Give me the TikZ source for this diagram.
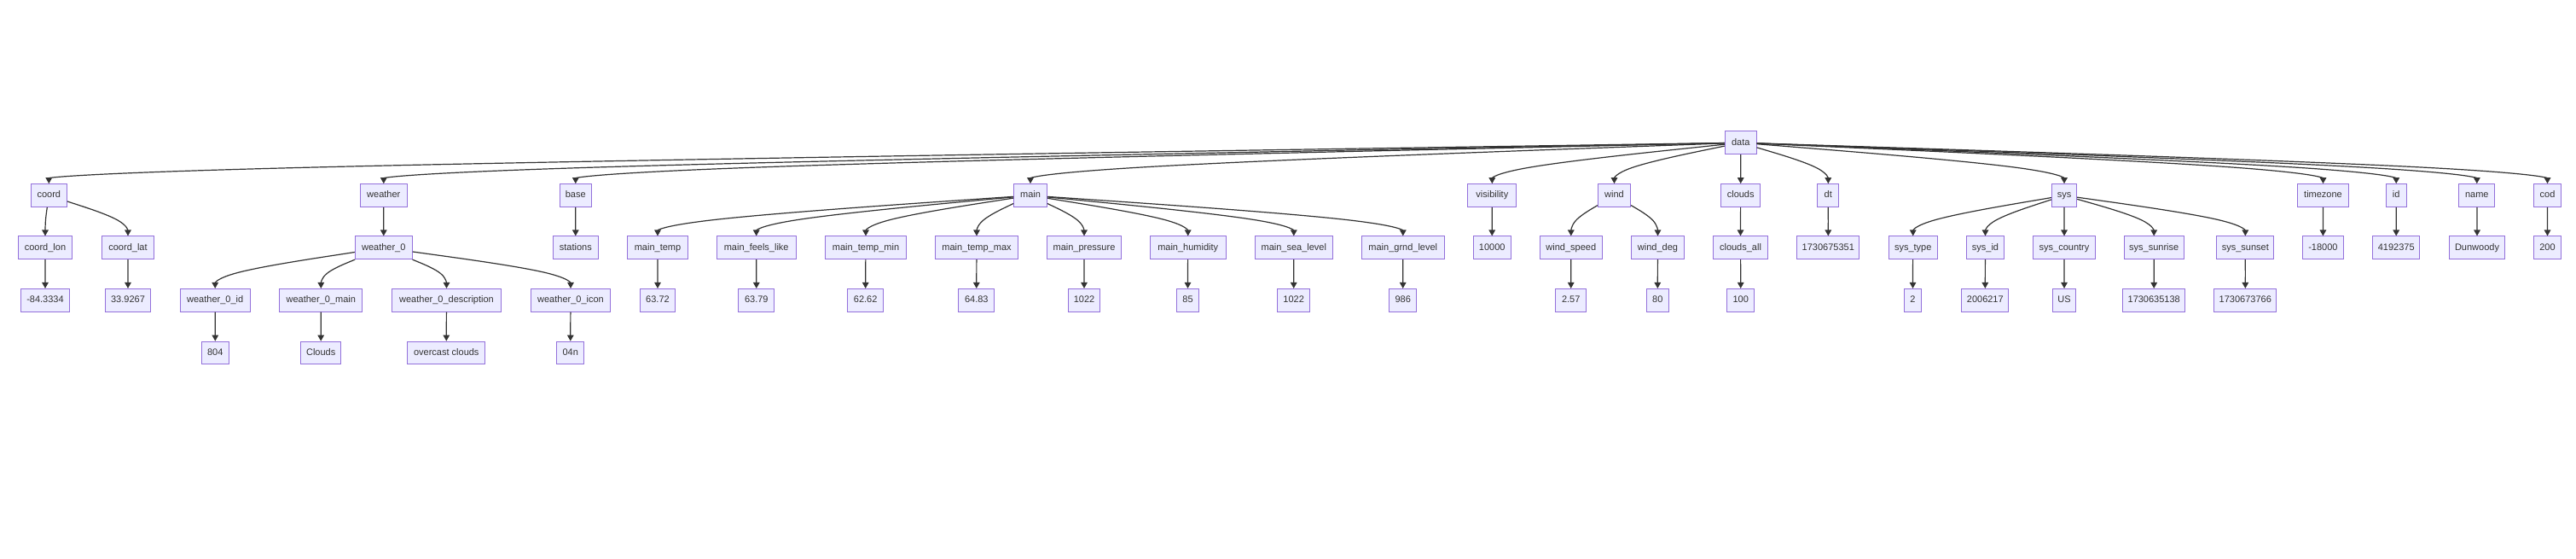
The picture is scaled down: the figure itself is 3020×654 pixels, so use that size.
\documentclass[tikz,border=0pt]{standalone}
\usepackage{fontspec}
\setmainfont{Liberation Sans}
\usetikzlibrary{calc,arrows.meta}
\definecolor{mmfill}{HTML}{ECECFF}
\definecolor{mmstroke}{HTML}{9370DB}
\definecolor{mmline}{HTML}{333333}
\definecolor{mmtext}{HTML}{333333}
\tikzset{
  box/.style={draw=mmstroke, fill=mmfill, line width=1pt, minimum height=26.7pt,
    inner sep=0pt, text height=8pt, text depth=2.4pt, text=mmtext,
    font=\fontsize{11}{13}\selectfont},
  edge/.style={draw=mmline, line width=1.2pt, -{Triangle[length=7pt,width=7.5pt]}},
}
\newcommand\bx[5]{\node[box,minimum width=#4pt] (#1) at (#2,#3) {#5};}
\newcommand\tedge[2]{%
  \coordinate (m) at ([yshift=17.4pt]#2.north);
  \path (m) -- (#1) coordinate[pos=1] (s);
  \draw[edge] (s) -- ($(s)!0.16667!(m)$)
    .. controls ($(s)!0.33333!(m)$) and ($(s)!0.66667!(m)$)
    .. ($0.16667*(s)+0.66667*(m)+0.16667*(#2.north)$)
    .. controls ($(m)!0.33333!(#2.north)$) and ($(m)!0.66667!(#2.north)$)
    .. (#2.north);
}
\begin{document}
\begin{tikzpicture}[x=1pt,y=-1pt]
\path[fill=white] (0,0) rectangle (3020,654);
\useasboundingbox (0,0) rectangle (3020,654);
% row 1
\bx{data}{2040.7}{167.2}{36.7}{data}
% row 2
\def\rb{229}
\bx{coord}{57.3}{\rb}{42}{coord}
\bx{weather}{449.8}{\rb}{55}{weather}
\bx{base}{674.8}{\rb}{37}{base}
\bx{main}{1208}{\rb}{38.7}{main}
\bx{visibility}{1749.3}{\rb}{56.7}{visibility}
\bx{wind}{1892.5}{\rb}{38.3}{wind}
\bx{clouds}{2040.7}{\rb}{46}{clouds}
\bx{dt}{2143.3}{\rb}{24.7}{dt}
\bx{sys}{2420}{\rb}{29.3}{sys}
\bx{timezone}{2723.5}{\rb}{60.3}{timezone}
\bx{idn}{2809.2}{\rb}{23.7}{id}
\bx{name}{2903.8}{\rb}{41.7}{name}
\bx{cod}{2986.5}{\rb}{32.3}{cod}
% row 3
\def\rc{290.3}
\bx{coordlon}{53}{\rc}{63.3}{coord\_lon}
\bx{coordlat}{150}{\rc}{61.3}{coord\_lat}
\bx{weatherO}{449.8}{\rc}{67}{weather\_0}
\bx{stations}{674.8}{\rc}{53}{stations}
\bx{maintemp}{771}{\rc}{70.7}{main\_temp}
\bx{mainfeels}{886.7}{\rc}{92.7}{main\_feels\_like}
\bx{maintempmin}{1015}{\rc}{94.7}{main\_temp\_min}
\bx{maintempmax}{1145}{\rc}{97.3}{main\_temp\_max}
\bx{mainpressure}{1271}{\rc}{87.3}{main\_pressure}
\bx{mainhumidity}{1392.7}{\rc}{88.7}{main\_humidity}
\bx{mainsea}{1516.8}{\rc}{91}{main\_sea\_level}
\bx{maingrnd}{1644.8}{\rc}{97}{main\_grnd\_level}
\bx{visval}{1749.2}{\rc}{43.7}{10000}
\bx{windspeed}{1841.8}{\rc}{73}{wind\_speed}
\bx{winddeg}{1943.5}{\rc}{62.3}{wind\_deg}
\bx{cloudsall}{2040.5}{\rc}{64.3}{clouds\_all}
\bx{dtval}{2143.3}{\rc}{72.7}{1730675351}
\bx{systype}{2242.7}{\rc}{56.7}{sys\_type}
\bx{sysid}{2327.5}{\rc}{44.3}{sys\_id}
\bx{syscountry}{2420}{\rc}{72.7}{sys\_country}
\bx{syssunrise}{2525.2}{\rc}{69.7}{sys\_sunrise}
\bx{syssunset}{2632.3}{\rc}{66.7}{sys\_sunset}
\bx{tzval}{2723.4}{\rc}{48}{-18000}
\bx{idval}{2809.2}{\rc}{55}{4192375}
\bx{nameval}{2904}{\rc}{65.3}{Dunwoody}
\bx{codval}{2986.5}{\rc}{32.3}{200}
% row 4
\def\rd{351.8}
\bx{lonval}{53}{\rd}{57.3}{-84.3334}
\bx{latval}{150}{\rd}{53.3}{33.9267}
\bx{wOid}{252.2}{\rd}{82.3}{weather\_0\_id}
\bx{wOmain}{376.3}{\rd}{97.3}{weather\_0\_main}
\bx{wOdesc}{523.5}{\rd}{128.3}{weather\_0\_description}
\bx{wOicon}{669}{\rd}{93.3}{weather\_0\_icon}
\bx{tempval}{771}{\rd}{41.3}{63.72}
\bx{feelsval}{886.8}{\rd}{41.7}{63.79}
\bx{minval}{1014.7}{\rd}{42}{62.62}
\bx{maxval}{1144.8}{\rd}{41.7}{64.83}
\bx{pressval}{1271}{\rd}{37.3}{1022}
\bx{humval}{1392.5}{\rd}{26.3}{85}
\bx{seaval}{1516.7}{\rd}{38}{1022}
\bx{grndval}{1644.7}{\rd}{32}{986}
\bx{speedval}{1841.7}{\rd}{36}{2.57}
\bx{degval}{1943.3}{\rd}{26}{80}
\bx{allval}{2040.7}{\rd}{32}{100}
\bx{typeval}{2242.5}{\rd}{20.3}{2}
\bx{sysidval}{2327.3}{\rd}{55.3}{2006217}
\bx{countryval}{2420}{\rd}{27.3}{US}
\bx{sunriseval}{2525.2}{\rd}{73}{1730635138}
\bx{sunsetval}{2632.3}{\rd}{72.7}{1730673766}
% row 5
\def\re{413.5}
\bx{idv}{252.3}{\re}{32}{804}
\bx{mainv}{376.2}{\re}{47}{Clouds}
\bx{descv}{523.3}{\re}{91.3}{overcast clouds}
\bx{iconv}{668.8}{\re}{32.3}{04n}
% edges
\foreach \c in {coord,weather,base,main,visibility,wind,clouds,dt,sys,timezone,idn,name,cod}{\tedge{data}{\c}}
\tedge{coord}{coordlon}\tedge{coord}{coordlat}
\tedge{coordlon}{lonval}\tedge{coordlat}{latval}
\tedge{weather}{weatherO}
\foreach \c in {wOid,wOmain,wOdesc,wOicon}{\tedge{weatherO}{\c}}
\tedge{wOid}{idv}\tedge{wOmain}{mainv}\tedge{wOdesc}{descv}\tedge{wOicon}{iconv}
\tedge{base}{stations}
\foreach \c in {maintemp,mainfeels,maintempmin,maintempmax,mainpressure,mainhumidity,mainsea,maingrnd}{\tedge{main}{\c}}
\tedge{maintemp}{tempval}\tedge{mainfeels}{feelsval}\tedge{maintempmin}{minval}
\tedge{maintempmax}{maxval}\tedge{mainpressure}{pressval}\tedge{mainhumidity}{humval}
\tedge{mainsea}{seaval}\tedge{maingrnd}{grndval}
\tedge{visibility}{visval}
\tedge{wind}{windspeed}\tedge{wind}{winddeg}
\tedge{windspeed}{speedval}\tedge{winddeg}{degval}
\tedge{clouds}{cloudsall}\tedge{cloudsall}{allval}
\tedge{dt}{dtval}
\foreach \c in {systype,sysid,syscountry,syssunrise,syssunset}{\tedge{sys}{\c}}
\tedge{systype}{typeval}\tedge{sysid}{sysidval}\tedge{syscountry}{countryval}
\tedge{syssunrise}{sunriseval}\tedge{syssunset}{sunsetval}
\tedge{timezone}{tzval}\tedge{idn}{idval}\tedge{name}{nameval}\tedge{cod}{codval}
\end{tikzpicture}
\end{document}
